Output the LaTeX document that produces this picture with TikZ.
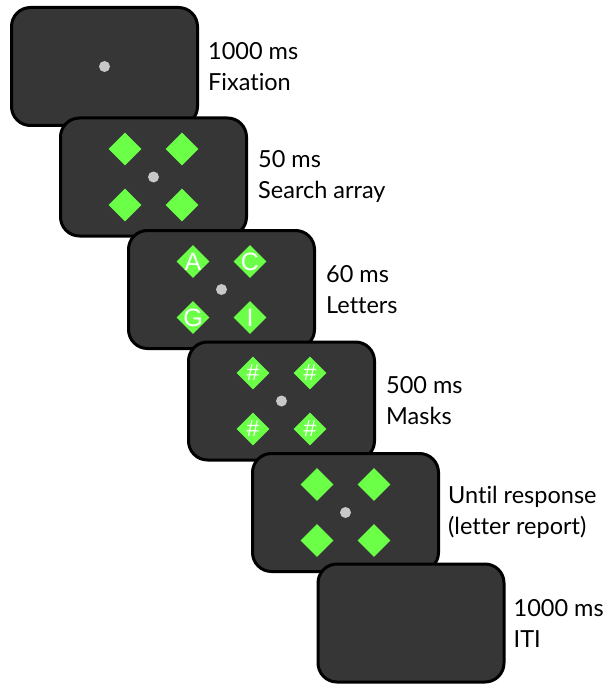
\documentclass[tikz,border=0pt]{standalone}
\usepackage{fontspec}
\setmainfont{Lato}[Ligatures={NoCommon,NoRare}]
\newfontfamily\stimfont{Liberation Sans}
\usetikzlibrary{shapes.geometric}

\definecolor{screenbg}{RGB}{54,54,54}
\definecolor{stimgreen}{RGB}{108,255,72}
\definecolor{fixgray}{RGB}{200,200,200}

\tikzset{
  screen/.style={draw=black, line width=3pt, fill=screenbg, rounded corners=19pt,
    minimum width=186pt, minimum height=118pt, inner sep=0pt},
  fixdot/.style={circle, fill=fixgray, minimum size=11pt, inner sep=0pt},
  gem/.style={diamond, fill=stimgreen, minimum width=33pt, minimum height=33pt, inner sep=0pt},
  glyph/.style={text=white, font=\stimfont\fontsize{25}{25}\selectfont, inner sep=0pt},
  hashglyph/.style={text=white, font=\stimfont\fontsize{23}{23}\selectfont, inner sep=0pt},
  caption/.style={anchor=west, align=left, inner sep=0pt,
    font=\fontsize{23.5}{31}\selectfont},
}

\begin{document}
\begin{tikzpicture}[x=1pt, y=-1pt]
\useasboundingbox (0,0) rectangle (608,687);

% Fixation
\node[screen] (s1) at (104.5,66.5) {};
\node[fixdot] (d1) at (s1.center) {};
\node[caption] (t1) at ([xshift=9pt]s1.east) {1000 ms\\Fixation};

% Search array
\node[screen] (s2) at (153.5,177) {};
\node[fixdot] (d2) at (s2.center) {};
\node[gem] (g2a) at ([xshift=-28.5pt,yshift=28pt]s2.center) {};
\node[gem] (g2b) at ([xshift=28.5pt,yshift=28pt]s2.center) {};
\node[gem] (g2c) at ([xshift=-28.5pt,yshift=-28pt]s2.center) {};
\node[gem] (g2d) at ([xshift=28.5pt,yshift=-28pt]s2.center) {};
\node[caption] (t2) at ([xshift=10pt]s2.east) {50 ms\\Search array};

% Letters
\node[screen] (s3) at (221.5,289.5) {};
\node[fixdot] (d3) at (s3.center) {};
\node[gem] (g3a) at ([xshift=-28.5pt,yshift=28pt]s3.center) {};
\node[gem] (g3b) at ([xshift=28.5pt,yshift=28pt]s3.center) {};
\node[gem] (g3c) at ([xshift=-28.5pt,yshift=-28pt]s3.center) {};
\node[gem] (g3d) at ([xshift=28.5pt,yshift=-28pt]s3.center) {};
\node[glyph] (l3a) at (g3a) {A};
\node[glyph] (l3b) at (g3b) {C};
\node[glyph] (l3c) at (g3c) {G};
\node[glyph] (l3d) at (g3d) {I};
\node[caption] (t3) at ([xshift=10pt]s3.east) {60 ms\\Letters};

% Masks
\node[screen] (s4) at (281.5,401) {};
\node[fixdot] (d4) at (s4.center) {};
\node[gem] (g4a) at ([xshift=-28.5pt,yshift=28pt]s4.center) {};
\node[gem] (g4b) at ([xshift=28.5pt,yshift=28pt]s4.center) {};
\node[gem] (g4c) at ([xshift=-28.5pt,yshift=-28pt]s4.center) {};
\node[gem] (g4d) at ([xshift=28.5pt,yshift=-28pt]s4.center) {};
\node[hashglyph] (h4a) at (g4a) {\#};
\node[hashglyph] (h4b) at (g4b) {\#};
\node[hashglyph] (h4c) at (g4c) {\#};
\node[hashglyph] (h4d) at (g4d) {\#};
\node[caption] (t4) at ([xshift=10pt]s4.east) {500 ms\\Masks};

% Response
\node[screen] (s5) at (345.5,512.5) {};
\node[fixdot] (d5) at (s5.center) {};
\node[gem] (g5a) at ([xshift=-28.5pt,yshift=28pt]s5.center) {};
\node[gem] (g5b) at ([xshift=28.5pt,yshift=28pt]s5.center) {};
\node[gem] (g5c) at ([xshift=-28.5pt,yshift=-28pt]s5.center) {};
\node[gem] (g5d) at ([xshift=28.5pt,yshift=-28pt]s5.center) {};
\node[caption] (t5) at ([xshift=8pt]s5.east) {Until response\\(letter report)};

% Inter-trial interval
\node[screen] (s6) at (411,623) {};
\node[caption] (t6) at ([xshift=8pt]s6.east) {1000 ms\\ITI};
\end{tikzpicture}
\end{document}
